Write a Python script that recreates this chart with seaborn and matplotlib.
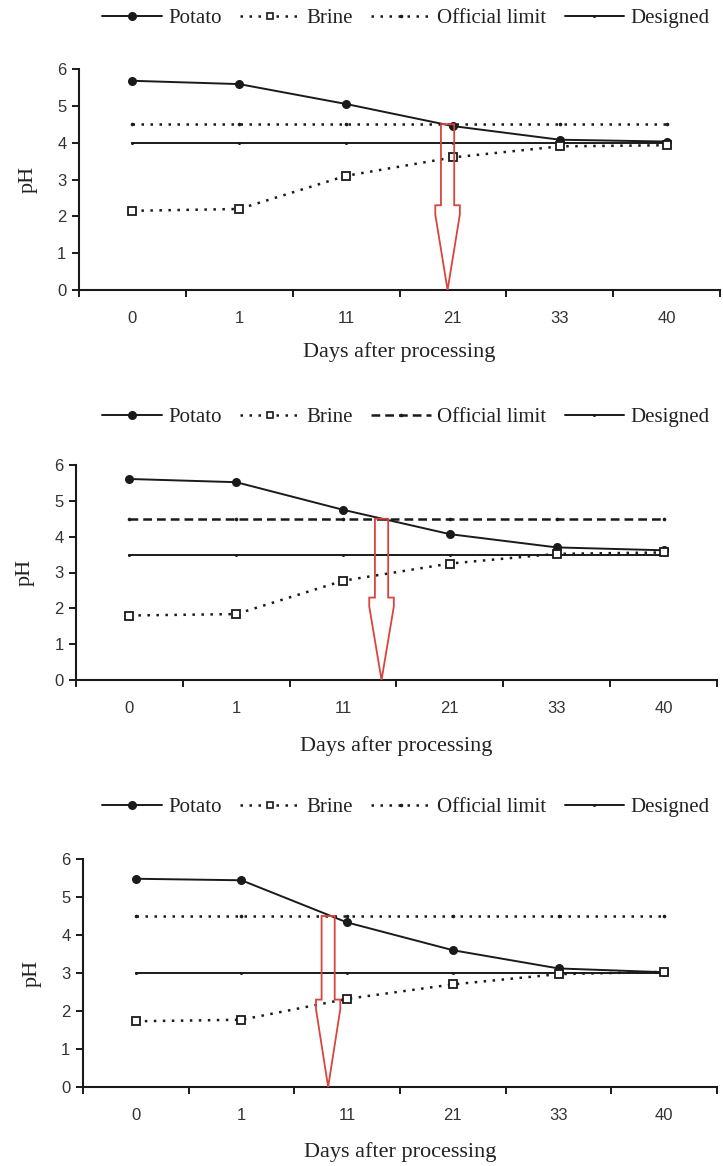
import numpy as np
import pandas as pd
import matplotlib
matplotlib.use("Agg")
import matplotlib.pyplot as plt
from matplotlib.patches import Polygon
from matplotlib.lines import Line2D
import seaborn as sns

# ---------------- data ----------------
days = ["0", "1", "11", "21", "33", "40"]

potato_a = [5.68, 5.59, 5.05, 4.45, 4.08, 4.03]
brine_a = [2.15, 2.20, 3.10, 3.60, 3.90, 3.93]
limit_a = [4.5] * 6
designed_a = [4.0] * 6

potato_b = [5.61, 5.52, 4.75, 4.07, 3.70, 3.62]
brine_b = [1.80, 1.84, 2.77, 3.25, 3.52, 3.56]
limit_b = [4.5] * 6
designed_b = [3.5] * 6

potato_c = [5.48, 5.44, 4.33, 3.60, 3.12, 3.02]
brine_c = [1.73, 1.77, 2.32, 2.70, 2.97, 3.03]
limit_c = [4.5] * 6
designed_c = [3.0] * 6

# position (in category units) where potato pH crosses the official limit
arrow_x = [2.95, 2.36, 1.82]

series_labels = ["Potato", "Brine", "Official limit", "Designed"]

# ---------------- style ----------------
sns.set_theme(style="ticks")
plt.rcParams["font.family"] = ["Liberation Serif", "DejaVu Serif"]

W, H = 723, 1166
fig = plt.figure(figsize=(W / 100, H / 100), dpi=100)

# axes rectangles in pixels: left, right, y_top(pH 6), y_zero
rects = [(79, 720, 69, 290), (76, 717, 465, 680), (83, 717, 859, 1087)]
legend_y = [18, 417, 807]
xlabel_y = [352, 746, 1152]
limit_styles = [(0, (1, 2.6)), (0, (3.5, 2)), (0, (1, 2.6))]

panels = [
    (potato_a, brine_a, limit_a, designed_a),
    (potato_b, brine_b, limit_b, designed_b),
    (potato_c, brine_c, limit_c, designed_c),
]

ink = "#1a1a1a"
tick_col = "#333333"

for i, (pot, bri, lim, des) in enumerate(panels):
    l, r, t, b = rects[i]
    ax = fig.add_axes([l / W, 1 - b / H, (r - l) / W, (b - t) / H])

    df = pd.DataFrame({"day": days, "Potato": pot, "Brine": bri,
                       "Official limit": lim, "Designed": des})

    sns.lineplot(data=df, x="day", y="Designed", ax=ax, color=ink, lw=1.4,
                 marker="o", markersize=2.2, markeredgewidth=0, sort=False)
    sns.lineplot(data=df, x="day", y="Official limit", ax=ax, color=ink, lw=1.8,
                 linestyle=limit_styles[i], marker="o", markersize=2.6,
                 markeredgewidth=0, sort=False)
    sns.lineplot(data=df, x="day", y="Potato", ax=ax, color=ink, lw=1.4,
                 marker="o", markersize=6.5, markeredgewidth=0, sort=False)
    sns.lineplot(data=df, x="day", y="Brine", ax=ax, color=ink, lw=1.8,
                 linestyle=(0, (1, 2.6)), marker="s", markersize=5.5,
                 markerfacecolor="white", markeredgecolor=ink,
                 markeredgewidth=1.3, sort=False)

    # red outlined arrow from the official limit down to 0
    cx = arrow_x[i]
    sw, hw = 0.062, 0.115
    top, head, neck = lim[0], 2.3, 2.05
    verts = [(cx - sw, top), (cx - sw, head), (cx - hw, head), (cx - hw, neck),
             (cx, 0.0), (cx + hw, neck), (cx + hw, head), (cx + sw, head),
             (cx + sw, top)]
    ax.add_patch(Polygon(verts, closed=True, fill=False, edgecolor="#d9443f",
                         lw=1.3, zorder=6))

    ax.set_xlim(-0.5, 5.5)
    ax.set_ylim(0, 6)
    ax.set_yticks(range(0, 7))
    ax.set_xticks(range(6))
    ax.set_xticklabels(days)
    ax.set_xticks(np.arange(-0.5, 6.0, 1.0), minor=True)
    ax.tick_params(axis="x", which="major", length=0, pad=15,
                   labelsize=12, labelcolor=tick_col)
    ax.tick_params(axis="x", which="minor", length=5, width=1.4,
                   color=ink, direction="out")
    ax.tick_params(axis="y", which="major", length=5, width=1.4, color=ink,
                   pad=4, labelsize=12, labelcolor=tick_col)
    for lab in ax.get_xticklabels() + ax.get_yticklabels():
        lab.set_fontfamily(["Liberation Sans", "DejaVu Sans"])

    sns.despine(ax=ax)
    for s in ("left", "bottom"):
        ax.spines[s].set_color(ink)
        ax.spines[s].set_linewidth(1.5)

    ax.set_ylabel("pH", fontsize=16, color="#222222", labelpad=14)
    ax.set_xlabel("Days after processing", fontsize=16, color="#222222")
    ax.xaxis.set_label_coords(0.5, -(xlabel_y[i] - b) / (b - t))
    ax.xaxis.label.set_va("center")

    handles = [
        Line2D([], [], color=ink, lw=1.4, marker="o", markersize=6.5,
               markeredgewidth=0),
        Line2D([], [], color=ink, lw=1.8, linestyle=(0, (1, 2.6)), marker="s",
               markersize=5, markerfacecolor="white", markeredgecolor=ink,
               markeredgewidth=1.2),
        Line2D([], [], color=ink, lw=1.8, linestyle=limit_styles[i],
               marker="o", markersize=2.6, markeredgewidth=0),
        Line2D([], [], color=ink, lw=1.4, marker="o", markersize=2.2,
               markeredgewidth=0),
    ]
    ax.legend(handles, series_labels, loc="center",
              bbox_to_anchor=(406 / W, 1 - legend_y[i] / H),
              bbox_transform=fig.transFigure, ncol=4, frameon=False,
              fontsize=15, handlelength=2.85, handletextpad=0.3,
              columnspacing=0.9, labelcolor="#222222")

fig.savefig("out.png", dpi=100, facecolor="white")
